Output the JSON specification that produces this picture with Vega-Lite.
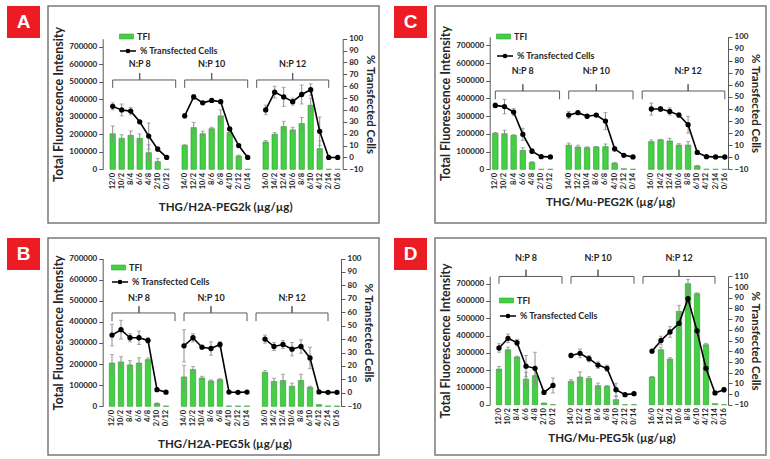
{
"$schema": "https://vega.github.io/schema/vega-lite/v6.json",
"background": "white",
"padding": {"left": 7, "top": 5, "right": 0, "bottom": 0},
"config": {
  "font": "Lato",
  "view": {"stroke": null},
  "axis": {"grid": false, "labelFont": "Lato", "titleFont": "Lato", "labelFontWeight": "bold", "titleFontWeight": "bold", "labelColor": "#262626", "titleColor": "#262626", "domainColor": "#595959", "tickColor": "#595959"},
  "axisLeft": {"titleFontSize": 12.5, "titlePadding": 3, "labelFontSize": 8},
  "legend": {"labelFont": "Lato", "labelFontWeight": "bold", "labelFontSize": 9, "labelColor": "#262626", "padding": 0, "labelOffset": 3}
},
"datasets": {
  "tfx": [
    {"panel":"A","group":"N:P 8","cat":"12/0","tfi":203000,"tfi_err":45000,"pct":43,"pct_err":3},
    {"panel":"A","group":"N:P 8","cat":"10/2","tfi":177000,"tfi_err":20000,"pct":40,"pct_err":5},
    {"panel":"A","group":"N:P 8","cat":"8/4","tfi":194000,"tfi_err":25000,"pct":39,"pct_err":3},
    {"panel":"A","group":"N:P 8","cat":"6/6","tfi":177000,"tfi_err":25000,"pct":30,"pct_err":1},
    {"panel":"A","group":"N:P 8","cat":"4/8","tfi":95000,"tfi_err":45000,"pct":18,"pct_err":11},
    {"panel":"A","group":"N:P 8","cat":"2/10","tfi":44000,"tfi_err":18000,"pct":7,"pct_err":2},
    {"panel":"A","group":"N:P 8","cat":"0/12","tfi":0,"tfi_err":0,"pct":0,"pct_err":0},
    {"panel":"A","group":"N:P 10","cat":"14/0","tfi":137000,"tfi_err":3000,"pct":35,"pct_err":2},
    {"panel":"A","group":"N:P 10","cat":"12/2","tfi":238000,"tfi_err":30000,"pct":51,"pct_err":2},
    {"panel":"A","group":"N:P 10","cat":"10/4","tfi":203000,"tfi_err":15000,"pct":46,"pct_err":1},
    {"panel":"A","group":"N:P 10","cat":"8/6","tfi":232000,"tfi_err":8000,"pct":48,"pct_err":1},
    {"panel":"A","group":"N:P 10","cat":"6/8","tfi":305000,"tfi_err":35000,"pct":47,"pct_err":1},
    {"panel":"A","group":"N:P 10","cat":"4/10","tfi":210000,"tfi_err":15000,"pct":24,"pct_err":1},
    {"panel":"A","group":"N:P 10","cat":"2/12","tfi":76000,"tfi_err":5000,"pct":10,"pct_err":1},
    {"panel":"A","group":"N:P 10","cat":"0/14","tfi":0,"tfi_err":0,"pct":0,"pct_err":0},
    {"panel":"A","group":"N:P 12","cat":"16/0","tfi":156000,"tfi_err":8000,"pct":40,"pct_err":4},
    {"panel":"A","group":"N:P 12","cat":"14/2","tfi":200000,"tfi_err":10000,"pct":55,"pct_err":5},
    {"panel":"A","group":"N:P 12","cat":"12/4","tfi":244000,"tfi_err":30000,"pct":51,"pct_err":8},
    {"panel":"A","group":"N:P 12","cat":"10/6","tfi":225000,"tfi_err":15000,"pct":47,"pct_err":3},
    {"panel":"A","group":"N:P 12","cat":"8/8","tfi":261000,"tfi_err":35000,"pct":53,"pct_err":8},
    {"panel":"A","group":"N:P 12","cat":"6/10","tfi":366000,"tfi_err":40000,"pct":57,"pct_err":5},
    {"panel":"A","group":"N:P 12","cat":"4/12","tfi":118000,"tfi_err":45000,"pct":22,"pct_err":12},
    {"panel":"A","group":"N:P 12","cat":"2/14","tfi":0,"tfi_err":0,"pct":0,"pct_err":0},
    {"panel":"A","group":"N:P 12","cat":"0/16","tfi":0,"tfi_err":0,"pct":0,"pct_err":0},

    {"panel":"B","group":"N:P 8","cat":"12/0","tfi":205000,"tfi_err":40000,"pct":43,"pct_err":8},
    {"panel":"B","group":"N:P 8","cat":"10/2","tfi":210000,"tfi_err":25000,"pct":47,"pct_err":7},
    {"panel":"B","group":"N:P 8","cat":"8/4","tfi":196000,"tfi_err":20000,"pct":41,"pct_err":3},
    {"panel":"B","group":"N:P 8","cat":"6/6","tfi":205000,"tfi_err":25000,"pct":41,"pct_err":5},
    {"panel":"B","group":"N:P 8","cat":"4/8","tfi":221000,"tfi_err":8000,"pct":39,"pct_err":2},
    {"panel":"B","group":"N:P 8","cat":"2/10","tfi":13000,"tfi_err":3000,"pct":2.4,"pct_err":0},
    {"panel":"B","group":"N:P 8","cat":"0/12","tfi":1000,"tfi_err":0,"pct":0.5,"pct_err":0},
    {"panel":"B","group":"N:P 10","cat":"14/0","tfi":139000,"tfi_err":55000,"pct":35,"pct_err":12},
    {"panel":"B","group":"N:P 10","cat":"12/2","tfi":174000,"tfi_err":15000,"pct":41,"pct_err":3},
    {"panel":"B","group":"N:P 10","cat":"10/4","tfi":134000,"tfi_err":8000,"pct":34,"pct_err":0},
    {"panel":"B","group":"N:P 10","cat":"8/6","tfi":120000,"tfi_err":5000,"pct":33,"pct_err":5},
    {"panel":"B","group":"N:P 10","cat":"6/8","tfi":126000,"tfi_err":5000,"pct":36,"pct_err":2},
    {"panel":"B","group":"N:P 10","cat":"4/10","tfi":1000,"tfi_err":0,"pct":0.6,"pct_err":0},
    {"panel":"B","group":"N:P 10","cat":"2/12","tfi":1000,"tfi_err":0,"pct":0.4,"pct_err":0},
    {"panel":"B","group":"N:P 10","cat":"0/14","tfi":1000,"tfi_err":0,"pct":0.6,"pct_err":0},
    {"panel":"B","group":"N:P 12","cat":"16/0","tfi":161000,"tfi_err":8000,"pct":40,"pct_err":3},
    {"panel":"B","group":"N:P 12","cat":"14/2","tfi":118000,"tfi_err":15000,"pct":34.5,"pct_err":3},
    {"panel":"B","group":"N:P 12","cat":"12/4","tfi":122000,"tfi_err":30000,"pct":36,"pct_err":3},
    {"panel":"B","group":"N:P 12","cat":"10/6","tfi":95000,"tfi_err":15000,"pct":32.5,"pct_err":5},
    {"panel":"B","group":"N:P 12","cat":"8/8","tfi":122000,"tfi_err":30000,"pct":34.5,"pct_err":5},
    {"panel":"B","group":"N:P 12","cat":"6/10","tfi":90000,"tfi_err":5000,"pct":26,"pct_err":8},
    {"panel":"B","group":"N:P 12","cat":"4/12","tfi":8000,"tfi_err":0,"pct":0.7,"pct_err":0},
    {"panel":"B","group":"N:P 12","cat":"2/14","tfi":1000,"tfi_err":0,"pct":0.4,"pct_err":0},
    {"panel":"B","group":"N:P 12","cat":"0/16","tfi":1000,"tfi_err":0,"pct":0.4,"pct_err":0},

    {"panel":"C","group":"N:P 8","cat":"12/0","tfi":203000,"tfi_err":5000,"pct":43,"pct_err":2},
    {"panel":"C","group":"N:P 8","cat":"10/2","tfi":201000,"tfi_err":20000,"pct":42,"pct_err":6},
    {"panel":"C","group":"N:P 8","cat":"8/4","tfi":192000,"tfi_err":3000,"pct":37.5,"pct_err":3},
    {"panel":"C","group":"N:P 8","cat":"6/6","tfi":107000,"tfi_err":15000,"pct":19,"pct_err":5},
    {"panel":"C","group":"N:P 8","cat":"4/8","tfi":38000,"tfi_err":5000,"pct":5,"pct_err":2},
    {"panel":"C","group":"N:P 8","cat":"2/10","tfi":0,"tfi_err":0,"pct":0.5,"pct_err":0},
    {"panel":"C","group":"N:P 8","cat":"0/12","tfi":0,"tfi_err":0,"pct":0.3,"pct_err":0},
    {"panel":"C","group":"N:P 10","cat":"14/0","tfi":136000,"tfi_err":12000,"pct":35,"pct_err":3},
    {"panel":"C","group":"N:P 10","cat":"12/2","tfi":126000,"tfi_err":10000,"pct":37,"pct_err":1},
    {"panel":"C","group":"N:P 10","cat":"10/4","tfi":122000,"tfi_err":5000,"pct":34,"pct_err":1},
    {"panel":"C","group":"N:P 10","cat":"8/6","tfi":126000,"tfi_err":3000,"pct":35,"pct_err":1},
    {"panel":"C","group":"N:P 10","cat":"6/8","tfi":128000,"tfi_err":15000,"pct":30,"pct_err":7},
    {"panel":"C","group":"N:P 10","cat":"4/10","tfi":34000,"tfi_err":5000,"pct":7,"pct_err":2},
    {"panel":"C","group":"N:P 10","cat":"2/12","tfi":3000,"tfi_err":0,"pct":1.6,"pct_err":0},
    {"panel":"C","group":"N:P 10","cat":"0/14","tfi":0,"tfi_err":0,"pct":0.3,"pct_err":0},
    {"panel":"C","group":"N:P 12","cat":"16/0","tfi":156000,"tfi_err":10000,"pct":40,"pct_err":5},
    {"panel":"C","group":"N:P 12","cat":"14/2","tfi":166000,"tfi_err":3000,"pct":40,"pct_err":2},
    {"panel":"C","group":"N:P 12","cat":"12/4","tfi":160000,"tfi_err":15000,"pct":38,"pct_err":3},
    {"panel":"C","group":"N:P 12","cat":"10/6","tfi":137000,"tfi_err":8000,"pct":35,"pct_err":2},
    {"panel":"C","group":"N:P 12","cat":"8/8","tfi":137000,"tfi_err":20000,"pct":27,"pct_err":7},
    {"panel":"C","group":"N:P 12","cat":"6/10","tfi":19000,"tfi_err":3000,"pct":4,"pct_err":1},
    {"panel":"C","group":"N:P 12","cat":"4/12","tfi":0,"tfi_err":0,"pct":0.5,"pct_err":0},
    {"panel":"C","group":"N:P 12","cat":"2/14","tfi":0,"tfi_err":0,"pct":0.3,"pct_err":0},
    {"panel":"C","group":"N:P 12","cat":"0/16","tfi":0,"tfi_err":0,"pct":0.2,"pct_err":0},

    {"panel":"D","group":"N:P 8","cat":"12/0","tfi":206000,"tfi_err":15000,"pct":43,"pct_err":4},
    {"panel":"D","group":"N:P 8","cat":"10/2","tfi":318000,"tfi_err":15000,"pct":52,"pct_err":4},
    {"panel":"D","group":"N:P 8","cat":"8/4","tfi":276000,"tfi_err":5000,"pct":48,"pct_err":3},
    {"panel":"D","group":"N:P 8","cat":"6/6","tfi":148000,"tfi_err":40000,"pct":26,"pct_err":10},
    {"panel":"D","group":"N:P 8","cat":"4/8","tfi":168000,"tfi_err":40000,"pct":24,"pct_err":15},
    {"panel":"D","group":"N:P 8","cat":"2/10","tfi":10000,"tfi_err":0,"pct":1.5,"pct_err":1},
    {"panel":"D","group":"N:P 8","cat":"0/12","tfi":0,"tfi_err":0,"pct":8,"pct_err":7},
    {"panel":"D","group":"N:P 10","cat":"14/0","tfi":135000,"tfi_err":10000,"pct":36,"pct_err":2},
    {"panel":"D","group":"N:P 10","cat":"12/2","tfi":160000,"tfi_err":30000,"pct":38,"pct_err":4},
    {"panel":"D","group":"N:P 10","cat":"10/4","tfi":152000,"tfi_err":10000,"pct":33,"pct_err":3},
    {"panel":"D","group":"N:P 10","cat":"8/6","tfi":110000,"tfi_err":15000,"pct":27,"pct_err":3},
    {"panel":"D","group":"N:P 10","cat":"6/8","tfi":106000,"tfi_err":5000,"pct":24,"pct_err":3},
    {"panel":"D","group":"N:P 10","cat":"4/10","tfi":29000,"tfi_err":20000,"pct":4,"pct_err":6},
    {"panel":"D","group":"N:P 10","cat":"2/12","tfi":0,"tfi_err":0,"pct":-0.6,"pct_err":0},
    {"panel":"D","group":"N:P 10","cat":"0/14","tfi":0,"tfi_err":0,"pct":0.3,"pct_err":0},
    {"panel":"D","group":"N:P 12","cat":"16/0","tfi":160000,"tfi_err":3000,"pct":40,"pct_err":1},
    {"panel":"D","group":"N:P 12","cat":"14/2","tfi":318000,"tfi_err":15000,"pct":50,"pct_err":4},
    {"panel":"D","group":"N:P 12","cat":"12/4","tfi":264000,"tfi_err":8000,"pct":58,"pct_err":5},
    {"panel":"D","group":"N:P 12","cat":"10/6","tfi":540000,"tfi_err":35000,"pct":66,"pct_err":8},
    {"panel":"D","group":"N:P 12","cat":"8/8","tfi":700000,"tfi_err":25000,"pct":89,"pct_err":10},
    {"panel":"D","group":"N:P 12","cat":"6/10","tfi":642000,"tfi_err":5000,"pct":59,"pct_err":4},
    {"panel":"D","group":"N:P 12","cat":"4/12","tfi":347000,"tfi_err":8000,"pct":24,"pct_err":4},
    {"panel":"D","group":"N:P 12","cat":"2/14","tfi":6000,"tfi_err":0,"pct":1,"pct_err":0},
    {"panel":"D","group":"N:P 12","cat":"0/16","tfi":0,"tfi_err":0,"pct":4,"pct_err":2}
  ],
  "braces": [
    {"panel":"A","group":"N:P 8","cat":"12/0","by":465000},{"panel":"A","group":"N:P 8","cat":"12/0","by":510000},{"panel":"A","group":"N:P 8","cat":"6/6","by":510000},{"panel":"A","group":"N:P 8","cat":"6/6","by":550000},{"panel":"A","group":"N:P 8","cat":"6/6","by":510000},{"panel":"A","group":"N:P 8","cat":"s1","by":510000},{"panel":"A","group":"N:P 8","cat":"s1","by":465000},
    {"panel":"A","group":"N:P 10","cat":"14/0","by":465000},{"panel":"A","group":"N:P 10","cat":"14/0","by":510000},{"panel":"A","group":"N:P 10","cat":"8/6","by":510000},{"panel":"A","group":"N:P 10","cat":"8/6","by":550000},{"panel":"A","group":"N:P 10","cat":"8/6","by":510000},{"panel":"A","group":"N:P 10","cat":"0/14","by":510000},{"panel":"A","group":"N:P 10","cat":"0/14","by":465000},
    {"panel":"A","group":"N:P 12","cat":"s2","by":465000},{"panel":"A","group":"N:P 12","cat":"s2","by":510000},{"panel":"A","group":"N:P 12","cat":"10/6","by":510000},{"panel":"A","group":"N:P 12","cat":"10/6","by":550000},{"panel":"A","group":"N:P 12","cat":"10/6","by":510000},{"panel":"A","group":"N:P 12","cat":"2/14","by":510000},{"panel":"A","group":"N:P 12","cat":"2/14","by":465000},

    {"panel":"B","group":"N:P 8","cat":"12/0","by":403000},{"panel":"B","group":"N:P 8","cat":"12/0","by":442000},{"panel":"B","group":"N:P 8","cat":"6/6","by":442000},{"panel":"B","group":"N:P 8","cat":"6/6","by":474000},{"panel":"B","group":"N:P 8","cat":"6/6","by":442000},{"panel":"B","group":"N:P 8","cat":"s1","by":442000},{"panel":"B","group":"N:P 8","cat":"s1","by":403000},
    {"panel":"B","group":"N:P 10","cat":"14/0","by":403000},{"panel":"B","group":"N:P 10","cat":"14/0","by":442000},{"panel":"B","group":"N:P 10","cat":"8/6","by":442000},{"panel":"B","group":"N:P 10","cat":"8/6","by":474000},{"panel":"B","group":"N:P 10","cat":"8/6","by":442000},{"panel":"B","group":"N:P 10","cat":"0/14","by":442000},{"panel":"B","group":"N:P 10","cat":"0/14","by":403000},
    {"panel":"B","group":"N:P 12","cat":"s2","by":403000},{"panel":"B","group":"N:P 12","cat":"s2","by":442000},{"panel":"B","group":"N:P 12","cat":"10/6","by":442000},{"panel":"B","group":"N:P 12","cat":"10/6","by":474000},{"panel":"B","group":"N:P 12","cat":"10/6","by":442000},{"panel":"B","group":"N:P 12","cat":"2/14","by":442000},{"panel":"B","group":"N:P 12","cat":"2/14","by":403000},

    {"panel":"C","group":"N:P 8","cat":"12/0","by":395000},{"panel":"C","group":"N:P 8","cat":"12/0","by":442000},{"panel":"C","group":"N:P 8","cat":"6/6","by":442000},{"panel":"C","group":"N:P 8","cat":"6/6","by":480000},{"panel":"C","group":"N:P 8","cat":"6/6","by":442000},{"panel":"C","group":"N:P 8","cat":"s1","by":442000},{"panel":"C","group":"N:P 8","cat":"s1","by":395000},
    {"panel":"C","group":"N:P 10","cat":"14/0","by":395000},{"panel":"C","group":"N:P 10","cat":"14/0","by":442000},{"panel":"C","group":"N:P 10","cat":"8/6","by":442000},{"panel":"C","group":"N:P 10","cat":"8/6","by":480000},{"panel":"C","group":"N:P 10","cat":"8/6","by":442000},{"panel":"C","group":"N:P 10","cat":"0/14","by":442000},{"panel":"C","group":"N:P 10","cat":"0/14","by":395000},
    {"panel":"C","group":"N:P 12","cat":"s2","by":395000},{"panel":"C","group":"N:P 12","cat":"s2","by":442000},{"panel":"C","group":"N:P 12","cat":"8/8","by":442000},{"panel":"C","group":"N:P 12","cat":"8/8","by":480000},{"panel":"C","group":"N:P 12","cat":"8/8","by":442000},{"panel":"C","group":"N:P 12","cat":"0/16","by":442000},{"panel":"C","group":"N:P 12","cat":"0/16","by":395000},

    {"panel":"D","group":"N:P 8","cat":"12/0","by":700000},{"panel":"D","group":"N:P 8","cat":"12/0","by":742000},{"panel":"D","group":"N:P 8","cat":"6/6","by":742000},{"panel":"D","group":"N:P 8","cat":"6/6","by":781000},{"panel":"D","group":"N:P 8","cat":"6/6","by":742000},{"panel":"D","group":"N:P 8","cat":"s1","by":742000},{"panel":"D","group":"N:P 8","cat":"s1","by":700000},
    {"panel":"D","group":"N:P 10","cat":"14/0","by":700000},{"panel":"D","group":"N:P 10","cat":"14/0","by":742000},{"panel":"D","group":"N:P 10","cat":"8/6","by":742000},{"panel":"D","group":"N:P 10","cat":"8/6","by":781000},{"panel":"D","group":"N:P 10","cat":"8/6","by":742000},{"panel":"D","group":"N:P 10","cat":"0/14","by":742000},{"panel":"D","group":"N:P 10","cat":"0/14","by":700000},
    {"panel":"D","group":"N:P 12","cat":"s2","by":700000},{"panel":"D","group":"N:P 12","cat":"s2","by":742000},{"panel":"D","group":"N:P 12","cat":"10/6","by":742000},{"panel":"D","group":"N:P 12","cat":"10/6","by":781000},{"panel":"D","group":"N:P 12","cat":"10/6","by":742000},{"panel":"D","group":"N:P 12","cat":"2/14","by":742000},{"panel":"D","group":"N:P 12","cat":"2/14","by":700000}
  ],
  "bracelabels": [
    {"panel":"A","group":"N:P 8","cat":"6/6","by":600000},{"panel":"A","group":"N:P 10","cat":"8/6","by":600000},{"panel":"A","group":"N:P 12","cat":"10/6","by":600000},
    {"panel":"B","group":"N:P 8","cat":"6/6","by":513000},{"panel":"B","group":"N:P 10","cat":"8/6","by":513000},{"panel":"B","group":"N:P 12","cat":"10/6","by":513000},
    {"panel":"C","group":"N:P 8","cat":"6/6","by":555000},{"panel":"C","group":"N:P 10","cat":"8/6","by":555000},{"panel":"C","group":"N:P 12","cat":"8/8","by":555000},
    {"panel":"D","group":"N:P 8","cat":"6/6","by":848000},{"panel":"D","group":"N:P 10","cat":"8/6","by":848000},{"panel":"D","group":"N:P 12","cat":"10/6","by":848000}
  ]
},
"spacing": 13,
"resolve": {"scale": {"fill": "independent", "stroke": "independent"}},
"vconcat": [
 {"spacing": 14, "resolve": {"scale": {"fill": "independent", "stroke": "independent"}}, "hconcat": [
  {"spacing": 7, "resolve": {"scale": {"fill": "independent", "stroke": "independent"}}, "hconcat": [
   {"width": 33, "height": 32, "view": {"fill": "#ec1c24", "stroke": null}, "data": {"values": [{"t": "A"}]}, "mark": {"type": "text", "color": "white", "fontSize": 19, "fontWeight": "bold", "font": "Liberation Sans"}, "encoding": {"text": {"field": "t", "type": "nominal"}}},
   {"width": 331, "height": 217, "view": {"stroke": "#7a7a7a", "strokeWidth": 1.5, "fill": "white"},
    "encoding": {"x": {"field": "cat", "type": "nominal", "scale": {"domain": ["12/0","10/2","8/4","6/6","4/8","2/10","0/12","s1","14/0","12/2","10/4","8/6","6/8","4/10","2/12","0/14","s2","16/0","14/2","12/4","10/6","8/8","6/10","4/12","2/14","0/16"], "range": [60.2, 294.2], "paddingInner": 0.4, "paddingOuter": 0.2},
      "axis": {"title": "THG/H2A-PEG2k (µg/µg)", "titleFontSize": 11.5, "titlePadding": 13, "labelAngle": -90, "labelFontSize": 7.5, "labelPadding": 3, "ticks": false, "domain": false, "offset": -53.7, "labelOverlap": false, "labelExpr": "datum.value == 's1' || datum.value == 's2' ? '' : datum.value"}}},
    "resolve": {"scale": {"y": "independent"}},
    "layer": [
     {"data": {"name": "tfx"}, "transform": [{"filter": "datum.panel == 'A'"}],
      "encoding": {"y": {"field": "tfi", "type": "quantitative", "scale": {"domain": [0, 745700], "range": [163.3, 32.7], "nice": false, "zero": false},
        "axis": {"title": "Total Fluorescence Intensity", "orient": "left", "offset": -54.7, "values": [0,100000,200000,300000,400000,500000,600000,700000], "format": "d", "tickSize": 4}}},
      "layer": [
       {"mark": {"type": "bar", "stroke": "#2a9a2a", "strokeWidth": 0.6},
        "encoding": {"fill": {"datum": "TFI", "type": "nominal", "scale": {"range": ["#44d044"]}, "legend": {"orient": "none", "legendX": 71, "legendY": 23, "title": null, "symbolType": "M-1,-0.35H1V0.35H-1Z", "symbolSize": 196, "symbolStrokeColor": "#2a9a2a", "symbolStrokeWidth": 0.6}}}},
       {"transform": [{"filter": "datum.tfi_err > 0"}], "mark": {"type": "errorbar", "ticks": true, "size": 4, "thickness": 1, "color": "#8c8c8c"}, "encoding": {"yError": {"field": "tfi_err"}}},
       {"data": {"name": "braces"}, "transform": [{"filter": "datum.panel == 'A'"}], "mark": {"type": "line", "color": "#595959", "strokeWidth": 1},
        "encoding": {"y": {"field": "by", "type": "quantitative", "scale": {"domain": [0, 745700], "range": [163.3, 32.7], "nice": false, "zero": false}, "axis": {"title": "Total Fluorescence Intensity", "orient": "left", "offset": -54.7, "values": [0,100000,200000,300000,400000,500000,600000,700000], "format": "d", "tickSize": 4}}, "detail": {"field": "group"}, "order": {"value": null}}},
       {"data": {"name": "bracelabels"}, "transform": [{"filter": "datum.panel == 'A'"}], "mark": {"type": "text", "fontSize": 9, "fontWeight": "bold", "color": "#262626"},
        "encoding": {"y": {"field": "by", "type": "quantitative", "scale": {"domain": [0, 745700], "range": [163.3, 32.7], "nice": false, "zero": false}, "axis": {"title": "Total Fluorescence Intensity", "orient": "left", "offset": -54.7, "values": [0,100000,200000,300000,400000,500000,600000,700000], "format": "d", "tickSize": 4}}, "text": {"field": "group"}}}
      ]},
     {"data": {"name": "tfx"}, "transform": [{"filter": "datum.panel == 'A'"}],
      "encoding": {"y": {"field": "pct", "type": "quantitative", "scale": {"domain": [-10, 100], "range": [163.3, 32.7], "nice": false, "zero": false},
        "axis": {"title": "% Transfected Cells", "orient": "right", "offset": -36.3, "values": [-10,0,10,20,30,40,50,60,70,80,90,100], "labelFontSize": 8, "titleFontSize": 11.5, "tickSize": 4, "titlePadding": 2}}},
      "layer": [
       {"transform": [{"filter": "datum.pct_err > 0"}], "mark": {"type": "errorbar", "ticks": true, "size": 4, "thickness": 1, "color": "#8c8c8c"}, "encoding": {"yError": {"field": "pct_err"}}},
       {"mark": {"type": "line", "strokeWidth": 1.6, "point": {"filled": true, "fill": "black", "size": 11}},
        "encoding": {"detail": {"field": "group"}, "order": {"value": null}, "stroke": {"datum": "% Transfected Cells", "type": "nominal", "scale": {"range": ["black"]}, "legend": {"orient": "none", "legendX": 71, "legendY": 36, "title": null, "symbolType": "M-1,0H1M-0.2,0A0.2,0.2,0,1,1,0.2,0A0.2,0.2,0,1,1,-0.2,0", "symbolSize": 256, "symbolStrokeColor": "black", "symbolStrokeWidth": 1.5, "symbolFillColor": "black"}}}}
      ]}
    ]}
  ]},
  {"spacing": 7, "resolve": {"scale": {"fill": "independent", "stroke": "independent"}}, "hconcat": [
   {"width": 33, "height": 32, "view": {"fill": "#ec1c24", "stroke": null}, "data": {"values": [{"t": "C"}]}, "mark": {"type": "text", "color": "white", "fontSize": 19, "fontWeight": "bold", "font": "Liberation Sans"}, "encoding": {"text": {"field": "t", "type": "nominal"}}},
   {"width": 331, "height": 217, "view": {"stroke": "#7a7a7a", "strokeWidth": 1.5, "fill": "white"},
    "encoding": {"x": {"field": "cat", "type": "nominal", "scale": {"domain": ["12/0","10/2","8/4","6/6","4/8","2/10","0/12","s1","14/0","12/2","10/4","8/6","6/8","4/10","2/12","0/14","s2","16/0","14/2","12/4","10/6","8/8","6/10","4/12","2/14","0/16"], "range": [55.7, 294.4], "paddingInner": 0.4, "paddingOuter": 0.2},
      "axis": {"title": "THG/Mu-PEG2K (µg/µg)", "titleFontSize": 11.5, "titlePadding": 8, "labelAngle": -90, "labelFontSize": 7.5, "labelPadding": 3, "ticks": false, "domain": false, "offset": -53.7, "labelOverlap": false, "labelExpr": "datum.value == 's1' || datum.value == 's2' ? '' : datum.value"}}},
    "resolve": {"scale": {"y": "independent"}},
    "layer": [
     {"data": {"name": "tfx"}, "transform": [{"filter": "datum.panel == 'C'"}],
      "encoding": {"y": {"field": "tfi", "type": "quantitative", "scale": {"domain": [0, 748600], "range": [163.3, 30.7], "nice": false, "zero": false},
        "axis": {"title": "Total Fluorescence Intensity", "orient": "left", "offset": -54.7, "values": [0,100000,200000,300000,400000,500000,600000,700000], "format": "d", "tickSize": 4}}},
      "layer": [
       {"mark": {"type": "bar", "stroke": "#2a9a2a", "strokeWidth": 0.6},
        "encoding": {"fill": {"datum": "TFI", "type": "nominal", "scale": {"range": ["#44d044"]}, "legend": {"orient": "none", "legendX": 61, "legendY": 23, "title": null, "symbolType": "M-1,-0.35H1V0.35H-1Z", "symbolSize": 196, "symbolStrokeColor": "#2a9a2a", "symbolStrokeWidth": 0.6}}}},
       {"transform": [{"filter": "datum.tfi_err > 0"}], "mark": {"type": "errorbar", "ticks": true, "size": 4, "thickness": 1, "color": "#8c8c8c"}, "encoding": {"yError": {"field": "tfi_err"}}},
       {"data": {"name": "braces"}, "transform": [{"filter": "datum.panel == 'C'"}], "mark": {"type": "line", "color": "#595959", "strokeWidth": 1},
        "encoding": {"y": {"field": "by", "type": "quantitative", "scale": {"domain": [0, 748600], "range": [163.3, 30.7], "nice": false, "zero": false}, "axis": {"title": "Total Fluorescence Intensity", "orient": "left", "offset": -54.7, "values": [0,100000,200000,300000,400000,500000,600000,700000], "format": "d", "tickSize": 4}}, "detail": {"field": "group"}, "order": {"value": null}}},
       {"data": {"name": "bracelabels"}, "transform": [{"filter": "datum.panel == 'C'"}], "mark": {"type": "text", "fontSize": 9, "fontWeight": "bold", "color": "#262626"},
        "encoding": {"y": {"field": "by", "type": "quantitative", "scale": {"domain": [0, 748600], "range": [163.3, 30.7], "nice": false, "zero": false}, "axis": {"title": "Total Fluorescence Intensity", "orient": "left", "offset": -54.7, "values": [0,100000,200000,300000,400000,500000,600000,700000], "format": "d", "tickSize": 4}}, "text": {"field": "group"}}}
      ]},
     {"data": {"name": "tfx"}, "transform": [{"filter": "datum.panel == 'C'"}],
      "encoding": {"y": {"field": "pct", "type": "quantitative", "scale": {"domain": [-10, 100], "range": [163.3, 30.7], "nice": false, "zero": false},
        "axis": {"title": "% Transfected Cells", "orient": "right", "offset": -38, "values": [-10,0,10,20,30,40,50,60,70,80,90,100], "labelFontSize": 8, "titleFontSize": 11.5, "tickSize": 4, "titlePadding": 2}}},
      "layer": [
       {"transform": [{"filter": "datum.pct_err > 0"}], "mark": {"type": "errorbar", "ticks": true, "size": 4, "thickness": 1, "color": "#8c8c8c"}, "encoding": {"yError": {"field": "pct_err"}}},
       {"mark": {"type": "line", "strokeWidth": 1.6, "point": {"filled": true, "fill": "black", "size": 11}},
        "encoding": {"detail": {"field": "group"}, "order": {"value": null}, "stroke": {"datum": "% Transfected Cells", "type": "nominal", "scale": {"range": ["black"]}, "legend": {"orient": "none", "legendX": 61, "legendY": 41, "title": null, "symbolType": "M-1,0H1M-0.2,0A0.2,0.2,0,1,1,0.2,0A0.2,0.2,0,1,1,-0.2,0", "symbolSize": 256, "symbolStrokeColor": "black", "symbolStrokeWidth": 1.5, "symbolFillColor": "black"}}}}
      ]}
    ]}
  ]}
 ]},
 {"spacing": 14, "resolve": {"scale": {"fill": "independent", "stroke": "independent"}}, "hconcat": [
  {"spacing": 7, "resolve": {"scale": {"fill": "independent", "stroke": "independent"}}, "hconcat": [
   {"width": 33, "height": 32, "view": {"fill": "#ec1c24", "stroke": null}, "data": {"values": [{"t": "B"}]}, "mark": {"type": "text", "color": "white", "fontSize": 19, "fontWeight": "bold", "font": "Liberation Sans"}, "encoding": {"text": {"field": "t", "type": "nominal"}}},
   {"width": 331, "height": 217, "view": {"stroke": "#7a7a7a", "strokeWidth": 1.5, "fill": "white"},
    "encoding": {"x": {"field": "cat", "type": "nominal", "scale": {"domain": ["12/0","10/2","8/4","6/6","4/8","2/10","0/12","s1","14/0","12/2","10/4","8/6","6/8","4/10","2/12","0/14","s2","16/0","14/2","12/4","10/6","8/8","6/10","4/12","2/14","0/16"], "range": [59.5, 293.5], "paddingInner": 0.4, "paddingOuter": 0.2},
      "axis": {"title": "THG/H2A-PEG5k (µg/µg)", "titleFontSize": 11.5, "titlePadding": 13, "labelAngle": -90, "labelFontSize": 7.5, "labelPadding": 3, "ticks": false, "domain": false, "offset": -48.7, "labelOverlap": false, "labelExpr": "datum.value == 's1' || datum.value == 's2' ? '' : datum.value"}}},
    "resolve": {"scale": {"y": "independent"}},
    "layer": [
     {"data": {"name": "tfx"}, "transform": [{"filter": "datum.panel == 'B'"}],
      "encoding": {"y": {"field": "tfi", "type": "quantitative", "scale": {"domain": [0, 700000], "range": [168.3, 20.5], "nice": false, "zero": false},
        "axis": {"title": "Total Fluorescence Intensity", "orient": "left", "offset": -54.7, "values": [0,100000,200000,300000,400000,500000,600000,700000], "format": "d", "tickSize": 4}}},
      "layer": [
       {"mark": {"type": "bar", "stroke": "#2a9a2a", "strokeWidth": 0.6},
        "encoding": {"fill": {"datum": "TFI", "type": "nominal", "scale": {"range": ["#44d044"]}, "legend": {"orient": "none", "legendX": 63, "legendY": 22, "title": null, "symbolType": "M-1,-0.35H1V0.35H-1Z", "symbolSize": 196, "symbolStrokeColor": "#2a9a2a", "symbolStrokeWidth": 0.6}}}},
       {"transform": [{"filter": "datum.tfi_err > 0"}], "mark": {"type": "errorbar", "ticks": true, "size": 4, "thickness": 1, "color": "#8c8c8c"}, "encoding": {"yError": {"field": "tfi_err"}}},
       {"data": {"name": "braces"}, "transform": [{"filter": "datum.panel == 'B'"}], "mark": {"type": "line", "color": "#595959", "strokeWidth": 1},
        "encoding": {"y": {"field": "by", "type": "quantitative", "scale": {"domain": [0, 700000], "range": [168.3, 20.5], "nice": false, "zero": false}, "axis": {"title": "Total Fluorescence Intensity", "orient": "left", "offset": -54.7, "values": [0,100000,200000,300000,400000,500000,600000,700000], "format": "d", "tickSize": 4}}, "detail": {"field": "group"}, "order": {"value": null}}},
       {"data": {"name": "bracelabels"}, "transform": [{"filter": "datum.panel == 'B'"}], "mark": {"type": "text", "fontSize": 9, "fontWeight": "bold", "color": "#262626"},
        "encoding": {"y": {"field": "by", "type": "quantitative", "scale": {"domain": [0, 700000], "range": [168.3, 20.5], "nice": false, "zero": false}, "axis": {"title": "Total Fluorescence Intensity", "orient": "left", "offset": -54.7, "values": [0,100000,200000,300000,400000,500000,600000,700000], "format": "d", "tickSize": 4}}, "text": {"field": "group"}}}
      ]},
     {"data": {"name": "tfx"}, "transform": [{"filter": "datum.panel == 'B'"}],
      "encoding": {"y": {"field": "pct", "type": "quantitative", "scale": {"domain": [-10, 100], "range": [168.3, 20.5], "nice": false, "zero": false},
        "axis": {"title": "% Transfected Cells", "orient": "right", "offset": -38, "values": [-10,0,10,20,30,40,50,60,70,80,90,100], "labelFontSize": 8, "titleFontSize": 11.5, "tickSize": 4, "titlePadding": 2}}},
      "layer": [
       {"transform": [{"filter": "datum.pct_err > 0"}], "mark": {"type": "errorbar", "ticks": true, "size": 4, "thickness": 1, "color": "#8c8c8c"}, "encoding": {"yError": {"field": "pct_err"}}},
       {"mark": {"type": "line", "strokeWidth": 1.6, "point": {"filled": true, "fill": "black", "size": 11}},
        "encoding": {"detail": {"field": "group"}, "order": {"value": null}, "stroke": {"datum": "% Transfected Cells", "type": "nominal", "scale": {"range": ["black"]}, "legend": {"orient": "none", "legendX": 63, "legendY": 35, "title": null, "symbolType": "M-1,0H1M-0.2,0A0.2,0.2,0,1,1,0.2,0A0.2,0.2,0,1,1,-0.2,0", "symbolSize": 256, "symbolStrokeColor": "black", "symbolStrokeWidth": 1.5, "symbolFillColor": "black"}}}}
      ]}
    ]}
  ]},
  {"spacing": 7, "resolve": {"scale": {"fill": "independent", "stroke": "independent"}}, "hconcat": [
   {"width": 33, "height": 32, "view": {"fill": "#ec1c24", "stroke": null}, "data": {"values": [{"t": "D"}]}, "mark": {"type": "text", "color": "white", "fontSize": 19, "fontWeight": "bold", "font": "Liberation Sans"}, "encoding": {"text": {"field": "t", "type": "nominal"}}},
   {"width": 331, "height": 217, "view": {"stroke": "#7a7a7a", "strokeWidth": 1.5, "fill": "white"},
    "encoding": {"x": {"field": "cat", "type": "nominal", "scale": {"domain": ["12/0","10/2","8/4","6/6","4/8","2/10","0/12","s1","14/0","12/2","10/4","8/6","6/8","4/10","2/12","0/14","s2","16/0","14/2","12/4","10/6","8/8","6/10","4/12","2/14","0/16"], "range": [59.5, 293.5], "paddingInner": 0.4, "paddingOuter": 0.2},
      "axis": {"title": "THG/Mu-PEG5k (µg/µg)", "titleFontSize": 11.5, "titlePadding": 8, "labelAngle": -90, "labelFontSize": 7.5, "labelPadding": 3, "ticks": false, "domain": false, "offset": -50.3, "labelOverlap": false, "labelExpr": "datum.value == 's1' || datum.value == 's2' ? '' : datum.value"}}},
    "resolve": {"scale": {"y": "independent"}},
    "layer": [
     {"data": {"name": "tfx"}, "transform": [{"filter": "datum.panel == 'D'"}],
      "encoding": {"y": {"field": "tfi", "type": "quantitative", "scale": {"domain": [0, 742800], "range": [166.7, 38.3], "nice": false, "zero": false},
        "axis": {"title": "Total Fluorescence Intensity", "orient": "left", "offset": -54.7, "values": [0,100000,200000,300000,400000,500000,600000,700000], "format": "d", "tickSize": 4}}},
      "layer": [
       {"mark": {"type": "bar", "stroke": "#2a9a2a", "strokeWidth": 0.6},
        "encoding": {"fill": {"datum": "TFI", "type": "nominal", "scale": {"range": ["#44d044"]}, "legend": {"orient": "none", "legendX": 64, "legendY": 55, "title": null, "symbolType": "M-1,-0.35H1V0.35H-1Z", "symbolSize": 196, "symbolStrokeColor": "#2a9a2a", "symbolStrokeWidth": 0.6}}}},
       {"transform": [{"filter": "datum.tfi_err > 0"}], "mark": {"type": "errorbar", "ticks": true, "size": 4, "thickness": 1, "color": "#8c8c8c"}, "encoding": {"yError": {"field": "tfi_err"}}},
       {"data": {"name": "braces"}, "transform": [{"filter": "datum.panel == 'D'"}], "mark": {"type": "line", "color": "#595959", "strokeWidth": 1},
        "encoding": {"y": {"field": "by", "type": "quantitative", "scale": {"domain": [0, 742800], "range": [166.7, 38.3], "nice": false, "zero": false}, "axis": {"title": "Total Fluorescence Intensity", "orient": "left", "offset": -54.7, "values": [0,100000,200000,300000,400000,500000,600000,700000], "format": "d", "tickSize": 4}}, "detail": {"field": "group"}, "order": {"value": null}}},
       {"data": {"name": "bracelabels"}, "transform": [{"filter": "datum.panel == 'D'"}], "mark": {"type": "text", "fontSize": 9, "fontWeight": "bold", "color": "#262626"},
        "encoding": {"y": {"field": "by", "type": "quantitative", "scale": {"domain": [0, 742800], "range": [166.7, 38.3], "nice": false, "zero": false}, "axis": {"title": "Total Fluorescence Intensity", "orient": "left", "offset": -54.7, "values": [0,100000,200000,300000,400000,500000,600000,700000], "format": "d", "tickSize": 4}}, "text": {"field": "group"}}}
      ]},
     {"data": {"name": "tfx"}, "transform": [{"filter": "datum.panel == 'D'"}],
      "encoding": {"y": {"field": "pct", "type": "quantitative", "scale": {"domain": [-10, 110], "range": [166.7, 38.3], "nice": false, "zero": false},
        "axis": {"title": "% Transfected Cells", "orient": "right", "offset": -38, "values": [-10,0,10,20,30,40,50,60,70,80,90,100,110], "labelFontSize": 8, "titleFontSize": 11.5, "tickSize": 4, "titlePadding": 2}}},
      "layer": [
       {"transform": [{"filter": "datum.pct_err > 0"}], "mark": {"type": "errorbar", "ticks": true, "size": 4, "thickness": 1, "color": "#8c8c8c"}, "encoding": {"yError": {"field": "pct_err"}}},
       {"mark": {"type": "line", "strokeWidth": 1.6, "point": {"filled": true, "fill": "black", "size": 11}},
        "encoding": {"detail": {"field": "group"}, "order": {"value": null}, "stroke": {"datum": "% Transfected Cells", "type": "nominal", "scale": {"range": ["black"]}, "legend": {"orient": "none", "legendX": 64, "legendY": 69, "title": null, "symbolType": "M-1,0H1M-0.2,0A0.2,0.2,0,1,1,0.2,0A0.2,0.2,0,1,1,-0.2,0", "symbolSize": 256, "symbolStrokeColor": "black", "symbolStrokeWidth": 1.5, "symbolFillColor": "black"}}}}
      ]}
    ]}
  ]}
 ]}
]
}
